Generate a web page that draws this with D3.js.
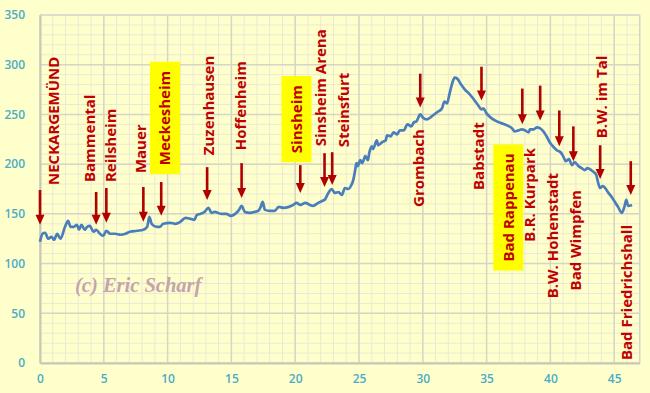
<!DOCTYPE html>
<html>
<head>
<meta charset="utf-8">
<script src="https://cdn.jsdelivr.net/npm/d3@7"></script>
<style>
  body { margin: 0; background: #ffffcc; }
  svg { display: block; }
</style>
</head>
<body>
<div class="profile"></div>
<script>
var svgWidth = 650;
var svgHeight = 393;

// route profile: distance (km) and elevation (m)
var distKm = [0,0.2,0.4,0.65,0.9,1.1,1.35,1.6,1.96,2.2,
  2.4,2.65,2.9,3.05,3.25,3.5,3.7,3.9,4.2,4.4,
  4.7,4.96,5.2,5.5,5.9,6.3,6.7,7.05,7.6,8.1,
  8.4,8.57,8.75,9.15,9.4,9.66,10.2,10.6,11.0,11.4,
  11.8,12.1,12.3,12.6,12.9,13.2,13.45,13.7,14.2,14.6,
  14.95,15.3,15.6,15.8,16.05,16.45,16.85,17.1,17.3,17.45,
  17.63,18.0,18.4,18.7,19.1,19.5,19.85,20.1,20.4,20.8,
  21.15,21.4,21.8,22.1,22.3,22.6,22.86,23.1,23.4,23.65,
  23.9,24.15,24.4,24.55,24.7,24.8,24.9,25.1,25.25,25.5,
  25.7,25.8,26.0,26.1,26.4,26.5,26.8,27.1,27.2,27.5,
  27.7,28.0,28.2,28.5,28.8,29.1,29.3,29.5,29.8,30.0,
  30.3,30.7,31.1,31.5,31.7,31.9,32.1,32.3,32.5,32.7,
  33.0,33.3,33.7,34.0,34.35,34.6,34.75,35.0,35.4,35.8,
  36.2,36.6,37.0,37.2,37.5,37.75,38.0,38.3,38.4,38.7,
  38.95,39.2,39.45,39.7,40.0,40.2,40.5,40.8,41.0,41.2,
  41.45,41.7,41.9,42.2,42.45,42.7,42.9,43.2,43.4,43.6,
  43.75,43.9,44.1,44.3,44.5,44.8,45.06,45.3,45.6,45.8,
  45.95,46.1,46.4];

var elevation = [122,130,131,125,127,124,130,125,137,143,
  137,137,139,134,139,134,137,138,132,134,
  130,128,133,130,130,129,130,132,133,134,
  137,147,140,137,137,140,141,140,142,146,
  145,144,149,150,152,156,151,152,150,150,
  148,150,154,158,152,151,152,153,157,162,
  154,153,153,157,156,157,159,161,159,161,
  159,158,161,163,164,171,175,171,172,169,
  176,175,179,184,194,201,198,204,201,208,
  204,211,218,215,224,219,222,224,229,228,
  232,230,234,234,240,238,242,243,250,247,
  245,248,252,256,263,261,271,281,287,286,
  280,275,270,265,259,255,256,251,246,243,
  241,239,236,233,234,235,234,232,235,235,
  237,236,233,228,221,218,214,212,208,203,
  205,199,202,198,196,194,196,194,192,189,
  181,176,178,176,172,167,162,157,151,157,
  164,158,159];

// stations along the route
var stations = ["NECKARGEMÜND","Bammental","Reilsheim","Mauer","Meckesheim","Zuzenhausen",
  "Hoffenheim","Sinsheim","Sinsheim Arena","Steinsfurt","Grombach","Babstadt",
  "Bad Rappenau","B.R. Kurpark","B.W. Hohenstadt","Bad Wimpfen","B.W. im Tal","Bad Friedrichshall"];
var stationKm = [0,4.4,5.2,8.1,9.5,13.1,15.8,20.4,22.3,22.9,29.8,34.6,37.8,39.2,40.7,41.8,43.9,46.3];
var arrowTop = [174,172,176,177,182,197,201,199,211,212,291,298,276,279,254,238,219,203];
var arrowTip = [139,139,141,142,148,164,166,171,177,179,257,264,240,244,218,203,185,169];
var labelKm = [1.1,3.88,5.56,7.92,9.8,13.2,15.75,20.1,22.0,23.8,29.7,34.4,36.7,38.4,40.2,42.0,44.0,46.0];
var labelBase = [179,182,182,191,199,209,214,211,218,217,157,174,102,122,65,73,226,3];
var highlighted = ["Meckesheim","Sinsheim","Bad Rappenau"];

var xTicks = [0,5,10,15,20,25,30,35,40,45];
var yTicks = [0,50,100,150,200,250,300,350];

var svg = d3.select(".profile")
  .append("svg")
  .attr("width", svgWidth)
  .attr("height", svgHeight);

svg.append("rect")
  .attr("width", svgWidth)
  .attr("height", svgHeight)
  .attr("fill", "#ffffcc");

var x = d3.scaleLinear().domain([0, 47]).range([40, 639.7]);
var y = d3.scaleLinear().domain([0, 350]).range([363, 15]);

// minor grid
var grid = svg.append("g");
grid.selectAll(".vminor")
  .data(d3.range(0, 48, 1))
  .enter().append("line")
  .attr("x1", d => x(d)).attr("x2", d => x(d))
  .attr("y1", y(0)).attr("y2", y(350))
  .attr("stroke", "#e9e9d6").attr("stroke-width", 1);
grid.selectAll(".hminor")
  .data(d3.range(0, 351, 10))
  .enter().append("line")
  .attr("x1", x(0)).attr("x2", x(47))
  .attr("y1", d => y(d)).attr("y2", d => y(d))
  .attr("stroke", "#e9e9d6").attr("stroke-width", 1);

// major grid
grid.selectAll(".vmajor")
  .data(xTicks.concat([47]))
  .enter().append("line")
  .attr("x1", d => x(d)).attr("x2", d => x(d))
  .attr("y1", y(0)).attr("y2", y(350))
  .attr("stroke", "#d6d6c8").attr("stroke-width", 1.5);
grid.selectAll(".hmajor")
  .data(yTicks)
  .enter().append("line")
  .attr("x1", x(0)).attr("x2", x(47))
  .attr("y1", d => y(d)).attr("y2", d => y(d))
  .attr("stroke", "#d6d6c8").attr("stroke-width", 1.5);

// axes
var xAxis = svg.append("g")
  .attr("transform", `translate(0, ${y(0)})`)
  .call(d3.axisBottom(x).tickValues(xTicks).tickSize(0).tickPadding(11));
var yAxis = svg.append("g")
  .attr("transform", `translate(${x(0)}, 0)`)
  .call(d3.axisLeft(y).tickValues(yTicks).tickSize(0).tickPadding(15));
[xAxis, yAxis].forEach(function(a) {
  a.select(".domain").attr("stroke", "#c8c8b8").attr("stroke-width", 2);
  a.selectAll("text")
    .attr("fill", "#4bacc6")
    .style("font-family", "Open Sans, Liberation Sans, sans-serif")
    .style("font-weight", "600")
    .style("font-size", "12px");
});

// watermark
svg.append("text")
  .attr("x", 75)
  .attr("y", 292)
  .attr("fill", "#c4a4ad")
  .style("font-family", "Liberation Serif, Times New Roman, serif")
  .style("font-style", "italic")
  .style("font-weight", "bold")
  .style("font-size", "20.5px")
  .text("(c) Eric Scharf");

// elevation line
var profile = d3.zip(distKm, elevation);
svg.append("path")
  .datum(profile)
  .attr("fill", "none")
  .attr("stroke", "#4a7ebb")
  .attr("stroke-width", 2.7)
  .attr("stroke-linejoin", "round")
  .attr("d", d3.line()
    .x(d => x(d[0]))
    .y(d => y(d[1]))
    .curve(d3.curveMonotoneX));

// station labels
var labels = svg.append("g");
stations.forEach(function(name, i) {
  var g = labels.append("g")
    .attr("transform", `translate(${x(labelKm[i])}, ${y(labelBase[i])}) rotate(-90)`);
  var t = g.append("text")
    .attr("x", 0)
    .attr("y", 0)
    .attr("dy", "0.36em")
    .attr("fill", "#c00000")
    .style("font-family", "Open Sans, Noto Sans, sans-serif")
    .style("font-weight", "bold")
    .style("font-size", "15px")
    .text(name);
  if (highlighted.indexOf(name) >= 0) {
    var len = t.node().getComputedTextLength();
    g.insert("rect", "text")
      .attr("x", -9)
      .attr("y", -15)
      .attr("width", len + 18)
      .attr("height", 30)
      .attr("fill", "#ffff00");
  }
});

// arrows
var arrows = svg.append("g");
stations.forEach(function(name, i) {
  var ax = x(stationKm[i]);
  var tip = y(arrowTip[i]);
  arrows.append("line")
    .attr("x1", ax).attr("x2", ax)
    .attr("y1", y(arrowTop[i])).attr("y2", tip - 8)
    .attr("stroke", "#b00000")
    .attr("stroke-width", 2.6);
  arrows.append("path")
    .attr("d", `M${ax - 4.5},${tip - 10} L${ax + 4.5},${tip - 10} L${ax},${tip} Z`)
    .attr("fill", "#b00000");
});
</script>
</body>
</html>
